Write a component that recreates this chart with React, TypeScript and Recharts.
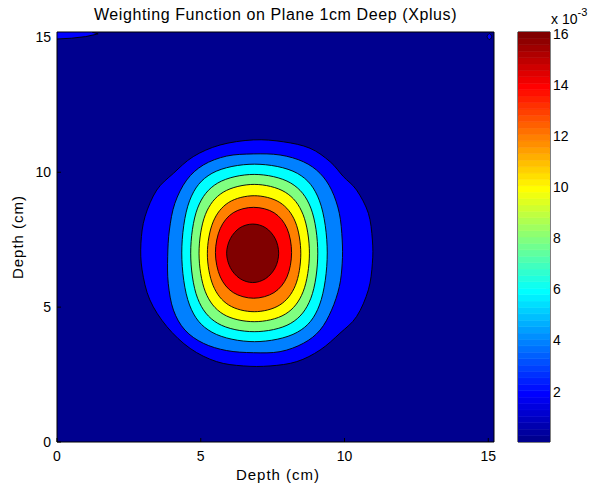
import { ComposedChart, Scatter, XAxis, YAxis, CartesianGrid } from 'recharts'

// axes (cm) and colorbar (x 10^-3)
const axisDomain: [number, number] = [0, 15.2]
const xTicks = [0, 5, 10, 15]
const yTicks = [0, 5, 10, 15]
const cbDomain: [number, number] = [0.03, 16.06]
const cbTicks = [2, 4, 6, 8, 10, 12, 14, 16]

// contour outlines, outermost first
const level1 = [
  { x: 6.83, y: 11.2 }, { x: 7.87, y: 11.13 }, { x: 8.8, y: 10.89 }, { x: 9.5, y: 10.39 }, { x: 9.96, y: 9.84 },
  { x: 10.42, y: 9.34 }, { x: 10.83, y: 8.48 }, { x: 10.97, y: 7.49 }, { x: 10.97, y: 6.63 }, { x: 10.83, y: 5.64 },
  { x: 10.42, y: 4.65 }, { x: 9.84, y: 4.03 }, { x: 9.15, y: 3.41 }, { x: 8.34, y: 2.98 }, { x: 7.41, y: 2.82 },
  { x: 6.48, y: 2.82 }, { x: 5.55, y: 2.98 }, { x: 4.63, y: 3.47 }, { x: 3.82, y: 4.28 }, { x: 3.23, y: 5.27 },
  { x: 2.96, y: 6.38 }, { x: 2.92, y: 7.37 }, { x: 3.06, y: 8.35 }, { x: 3.47, y: 9.34 }, { x: 4.05, y: 9.96 },
  { x: 4.74, y: 10.58 }, { x: 5.67, y: 11.01 },
]
const level2 = [
  { x: 6.83, y: 10.68 }, { x: 7.76, y: 10.64 }, { x: 8.57, y: 10.39 }, { x: 9.15, y: 9.96 }, { x: 9.55, y: 9.34 },
  { x: 9.82, y: 8.48 }, { x: 9.92, y: 7.49 }, { x: 9.92, y: 6.63 }, { x: 9.82, y: 5.76 }, { x: 9.55, y: 4.89 },
  { x: 9.15, y: 4.15 }, { x: 8.57, y: 3.66 }, { x: 7.76, y: 3.35 }, { x: 6.83, y: 3.31 }, { x: 5.9, y: 3.39 },
  { x: 5.09, y: 3.66 }, { x: 4.45, y: 4.15 }, { x: 4.05, y: 4.89 }, { x: 3.87, y: 5.88 }, { x: 3.85, y: 6.87 },
  { x: 3.91, y: 7.86 }, { x: 4.1, y: 8.85 }, { x: 4.51, y: 9.71 }, { x: 5.09, y: 10.27 }, { x: 5.9, y: 10.6 },
]
const level3 = [
  { x: 9.4, y: 7.01 }, { x: 9.13, y: 8.94 }, { x: 8.36, y: 9.96 }, { x: 6.87, y: 10.3 }, { x: 5.39, y: 9.96 },
  { x: 4.61, y: 8.94 }, { x: 4.34, y: 7.01 }, { x: 4.61, y: 5.08 }, { x: 5.39, y: 4.07 }, { x: 6.87, y: 3.72 },
  { x: 8.36, y: 4.07 }, { x: 9.13, y: 5.08 },
]
const level4 = [
  { x: 9.07, y: 7.0 }, { x: 8.83, y: 8.67 }, { x: 8.13, y: 9.6 }, { x: 6.86, y: 9.92 }, { x: 5.59, y: 9.6 },
  { x: 4.89, y: 8.67 }, { x: 4.65, y: 7.0 }, { x: 4.89, y: 5.33 }, { x: 5.59, y: 4.4 }, { x: 6.86, y: 4.09 },
  { x: 8.13, y: 4.4 }, { x: 8.83, y: 5.33 },
]
const level5 = [
  { x: 8.78, y: 7.0 }, { x: 8.56, y: 8.43 }, { x: 7.94, y: 9.26 }, { x: 6.86, y: 9.55 }, { x: 5.78, y: 9.26 },
  { x: 5.16, y: 8.43 }, { x: 4.94, y: 7.0 }, { x: 5.16, y: 5.57 }, { x: 5.78, y: 4.74 }, { x: 6.86, y: 4.46 },
  { x: 7.94, y: 4.74 }, { x: 8.56, y: 5.57 },
]
const level6 = [
  { x: 8.48, y: 6.98 }, { x: 8.29, y: 8.16 }, { x: 7.75, y: 8.88 }, { x: 6.86, y: 9.13 }, { x: 5.97, y: 8.88 },
  { x: 5.43, y: 8.16 }, { x: 5.23, y: 6.98 }, { x: 5.43, y: 5.8 }, { x: 5.97, y: 5.08 }, { x: 6.86, y: 4.83 },
  { x: 7.75, y: 5.08 }, { x: 8.29, y: 5.8 },
]
const level7 = [
  { x: 8.16, y: 7.02 }, { x: 8.0, y: 7.92 }, { x: 7.55, y: 8.5 }, { x: 6.84, y: 8.7 }, { x: 6.13, y: 8.5 },
  { x: 5.68, y: 7.92 }, { x: 5.51, y: 7.02 }, { x: 5.68, y: 6.12 }, { x: 6.13, y: 5.54 }, { x: 6.84, y: 5.33 },
  { x: 7.55, y: 5.54 }, { x: 8.0, y: 6.12 },
]
const level8 = [
  { x: 7.71, y: 7.0 }, { x: 7.59, y: 7.54 }, { x: 7.26, y: 7.94 }, { x: 6.81, y: 8.08 }, { x: 6.36, y: 7.94 },
  { x: 6.03, y: 7.54 }, { x: 5.9, y: 7.0 }, { x: 6.03, y: 6.46 }, { x: 6.36, y: 6.06 }, { x: 6.81, y: 5.91 },
  { x: 7.26, y: 6.06 }, { x: 7.59, y: 6.46 },
]
// small patches at the top corners
const cornerLeft = [
  { x: 0, y: 15.2 }, { x: 1.2, y: 15.2 }, { x: 1.43, y: 15.13 }, { x: 1.0, y: 15.03 }, { x: 0.5, y: 14.97 }, { x: 0, y: 14.94 },
]
const cornerRight = [
  { x: 15.04, y: 15.14 }, { x: 15.12, y: 15.03 }, { x: 15.04, y: 14.92 }, { x: 14.96, y: 15.03 },
]

const levels = [level1, level2, level3, level4, level5, level6, level7, level8]
const levelColors = ['#0000ff', '#0080ff', '#00ffff', '#80ff80', '#ffff00', '#ff8000', '#ff0000', '#800000']
const bgColor = '#00008f'

// MATLAB jet(64)
const jetU = (j: number) => (j >= 1 && j <= 16 ? j / 16 : j >= 17 && j <= 31 ? 1 : j >= 32 && j <= 47 ? (48 - j) / 16 : 0)
const jet = (k: number) => {
  const r = k >= 25 ? jetU(k - 24) : 0
  const g = k >= 9 && k <= 55 ? jetU(k - 8) : 0
  const b = k <= 39 ? jetU(k + 8) : 0
  const h = (v: number) => Math.round(v * 255).toString(16).padStart(2, '0')
  return `#${h(r)}${h(g)}${h(b)}`
}
// one rectangle per colormap entry, spanning the colorbar range
const cbSteps = Array.from({ length: 64 }, (_, i) => {
  const y1 = cbDomain[0] + (i * (cbDomain[1] - cbDomain[0])) / 64
  const y2 = cbDomain[0] + ((i + 1) * (cbDomain[1] - cbDomain[0])) / 64
  return { color: jet(i + 1), pts: [{ x: 0, y: y1 }, { x: 1, y: y1 }, { x: 1, y: y2 }, { x: 0, y: y2 }] }
})

const smoothPath = (pts: { x: number; y: number }[]) => {
  const n = pts.length
  let d = `M${pts[0].x},${pts[0].y}`
  for (let i = 0; i < n; i++) {
    const p0 = pts[(i - 1 + n) % n], p1 = pts[i], p2 = pts[(i + 1) % n], p3 = pts[(i + 2) % n]
    d += ` C${p1.x + (p2.x - p0.x) / 6},${p1.y + (p2.y - p0.y) / 6} ${p2.x - (p3.x - p1.x) / 6},${p2.y - (p3.y - p1.y) / 6} ${p2.x},${p2.y}`
  }
  return d + 'Z'
}

const polygon = (color: string, smooth: boolean, edge: string, sw: number) => (props: any) => {
  const pts = (props.points || []).filter((p: any) => p && Number.isFinite(p.x) && Number.isFinite(p.y))
  if (!pts.length) return <g />
  const d = smooth ? smoothPath(pts) : 'M' + pts.map((p: any) => `${p.x},${p.y}`).join('L') + 'Z'
  return <path d={d} fill={color} stroke={edge} strokeWidth={sw} strokeLinejoin="round" />
}

const noDot = () => <g />
const font = '"Liberation Sans", Arial, Helvetica, sans-serif'
const tickStyle = { fontSize: 14, fill: '#000', fontFamily: font }

export default function App() {
  return (
    <div style={{ position: 'absolute', left: 0, top: 0, width: 595, height: 489, background: '#fff', fontFamily: font }}>
      <div style={{ position: 'absolute', left: 0, top: 0 }}>
        <ComposedChart width={595} height={489} margin={{ top: 31, right: 100, bottom: 17, left: 27 }}>
          <CartesianGrid horizontal={false} vertical={false} fill={bgColor} />
          <XAxis type="number" dataKey="x" domain={axisDomain} ticks={xTicks} allowDataOverflow height={30}
            tick={tickStyle} tickSize={-4} tickMargin={13} stroke="#000" interval={0} />
          <XAxis xAxisId="top" orientation="top" type="number" domain={axisDomain} ticks={xTicks} allowDataOverflow
            height={1} tick={false} tickSize={-4} stroke="#000" />
          <YAxis type="number" dataKey="y" domain={axisDomain} ticks={yTicks} allowDataOverflow width={30}
            tick={tickStyle} tickSize={-4} tickMargin={10} stroke="#000" interval={0} />
          <YAxis yAxisId="right" orientation="right" type="number" domain={axisDomain} ticks={yTicks} allowDataOverflow
            width={1} tick={false} tickSize={-4} stroke="#000" />
          {levels.map((lv, i) => (
            <Scatter key={i} data={lv} line={polygon(levelColors[i], true, '#000', 0.9)} shape={noDot}
              isAnimationActive={false} legendType="none" />
          ))}
          <Scatter data={cornerLeft} line={polygon(levelColors[0], false, '#000', 0.9)} shape={noDot} isAnimationActive={false} legendType="none" />
          <Scatter data={cornerRight} line={polygon(levelColors[0], true, '#000', 0.9)} shape={noDot} isAnimationActive={false} legendType="none" />
        </ComposedChart>
      </div>
      <div style={{ position: 'absolute', left: 500, top: 0 }}>
        <ComposedChart width={95} height={489} margin={{ top: 31, right: 5, bottom: 46, left: 17 }}>
          <XAxis type="number" dataKey="x" domain={[0, 1]} allowDataOverflow height={1} tick={false} tickLine={false} stroke="#000" />
          <XAxis xAxisId="top" orientation="top" type="number" domain={[0, 1]} allowDataOverflow height={1}
            tick={false} tickLine={false} stroke="#000" />
          <YAxis yAxisId="left" type="number" domain={cbDomain} allowDataOverflow width={1} tick={false}
            tickLine={false} stroke="#000" />
          <YAxis orientation="right" type="number" dataKey="y" domain={cbDomain} ticks={cbTicks} allowDataOverflow width={40}
            tick={tickStyle} tickSize={-4} tickMargin={7} stroke="#000" interval={0} />
          {cbSteps.map((s, i) => (
            <Scatter key={i} data={s.pts} line={polygon(s.color, false, s.color, 0.6)} shape={noDot}
              isAnimationActive={false} legendType="none" />
          ))}
        </ComposedChart>
      </div>
      <svg width={595} height={489} style={{ position: 'absolute', left: 0, top: 0, pointerEvents: 'none' }}>
        <text x={275.5} y={20} textAnchor="middle" fontSize={16} letterSpacing={0.6} fontFamily={font}>Weighting Function on Plane 1cm Deep (Xplus)</text>
        <text x={278} y={480} textAnchor="middle" fontSize={15} letterSpacing={1} fontFamily={font}>Depth (cm)</text>
        <text transform="translate(23,237) rotate(-90)" textAnchor="middle" fontSize={15} letterSpacing={1} fontFamily={font}>Depth (cm)</text>
        <text x={551} y={24} fontSize={14} fontFamily={font}>x 10<tspan dy={-8} fontSize={11}>-3</tspan></text>
      </svg>
    </div>
  )
}
